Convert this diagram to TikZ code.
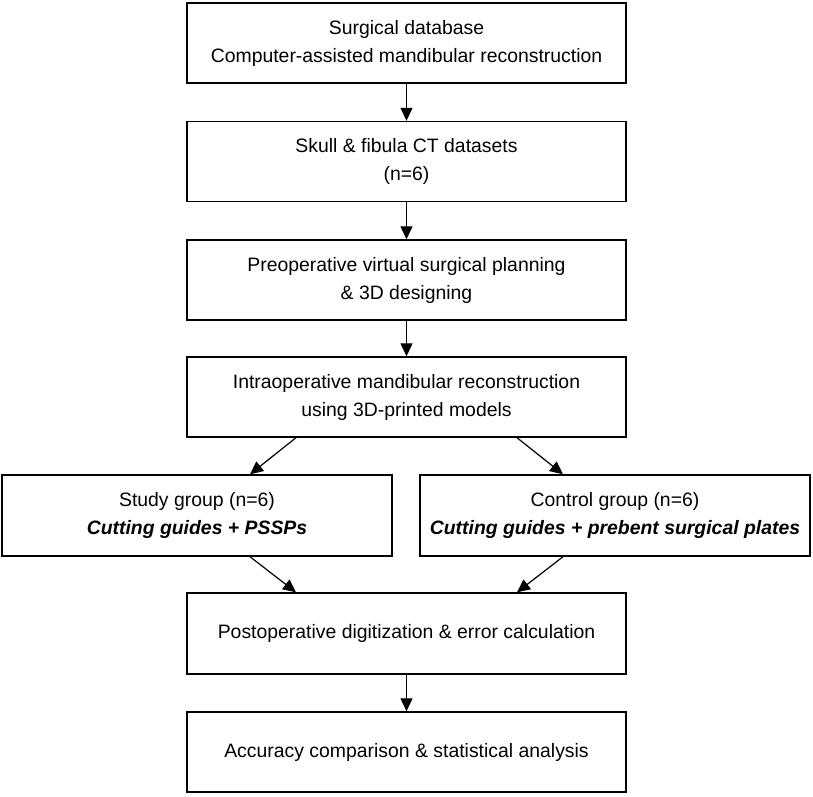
\documentclass[tikz,border=0pt]{standalone}
\usepackage{fontspec}
\setmainfont{Liberation Sans}
\usetikzlibrary{arrows.meta}
\begin{document}
\begin{tikzpicture}[x=1pt,y=-1pt,
  box/.style={draw, line width=1.4pt, rectangle, align=center, inner sep=0pt,
    minimum width=439pt, minimum height=80pt,
    font=\fontsize{19.4}{28}\selectfont},
  gbox/.style={box, minimum width=390pt, minimum height=81pt},
  arr/.style={line width=1.2pt, -{Triangle[length=13pt,width=12pt]}}]
\useasboundingbox (0,0) rectangle (813,796);
\node[box] (b1) at (406.5,43) {Surgical database\\Computer-assisted mandibular reconstruction};
\node[box] (b2) at (406.5,161.5) {Skull \& fibula CT datasets\\(n=6)};
\node[box] (b3) at (406.5,280) {Preoperative virtual surgical planning\\\& 3D designing};
\node[box] (b4) at (406.5,397) {Intraoperative mandibular reconstruction\\using 3D-printed models};
\node[gbox] (L) at (197,515.5) {Study group (n=6)\\\textbf{\textit{Cutting guides + PSSPs}}};
\node[gbox] (R) at (615,515.5) {Control group (n=6)\\\textbf{\textit{Cutting guides + prebent surgical plates}}};
\node[box, minimum height=81pt] (b6) at (406.5,633.5) {Postoperative digitization \& error calculation};
\node[box] (b7) at (406.5,752) {Accuracy comparison \& statistical analysis};
\draw[arr] (b1) -- (b2);
\draw[arr] (b2) -- (b3);
\draw[arr] (b3) -- (b4);
\draw[arr] ([xshift=-110.5pt]b4.south) -- ([xshift=53pt]L.north);
\draw[arr] ([xshift=110.5pt]b4.south) -- ([xshift=-52pt]R.north);
\draw[arr] ([xshift=53pt]L.south) -- ([xshift=-110.5pt]b6.north);
\draw[arr] ([xshift=-52pt]R.south) -- ([xshift=110.5pt]b6.north);
\draw[arr] (b6) -- (b7);
\end{tikzpicture}
\end{document}
